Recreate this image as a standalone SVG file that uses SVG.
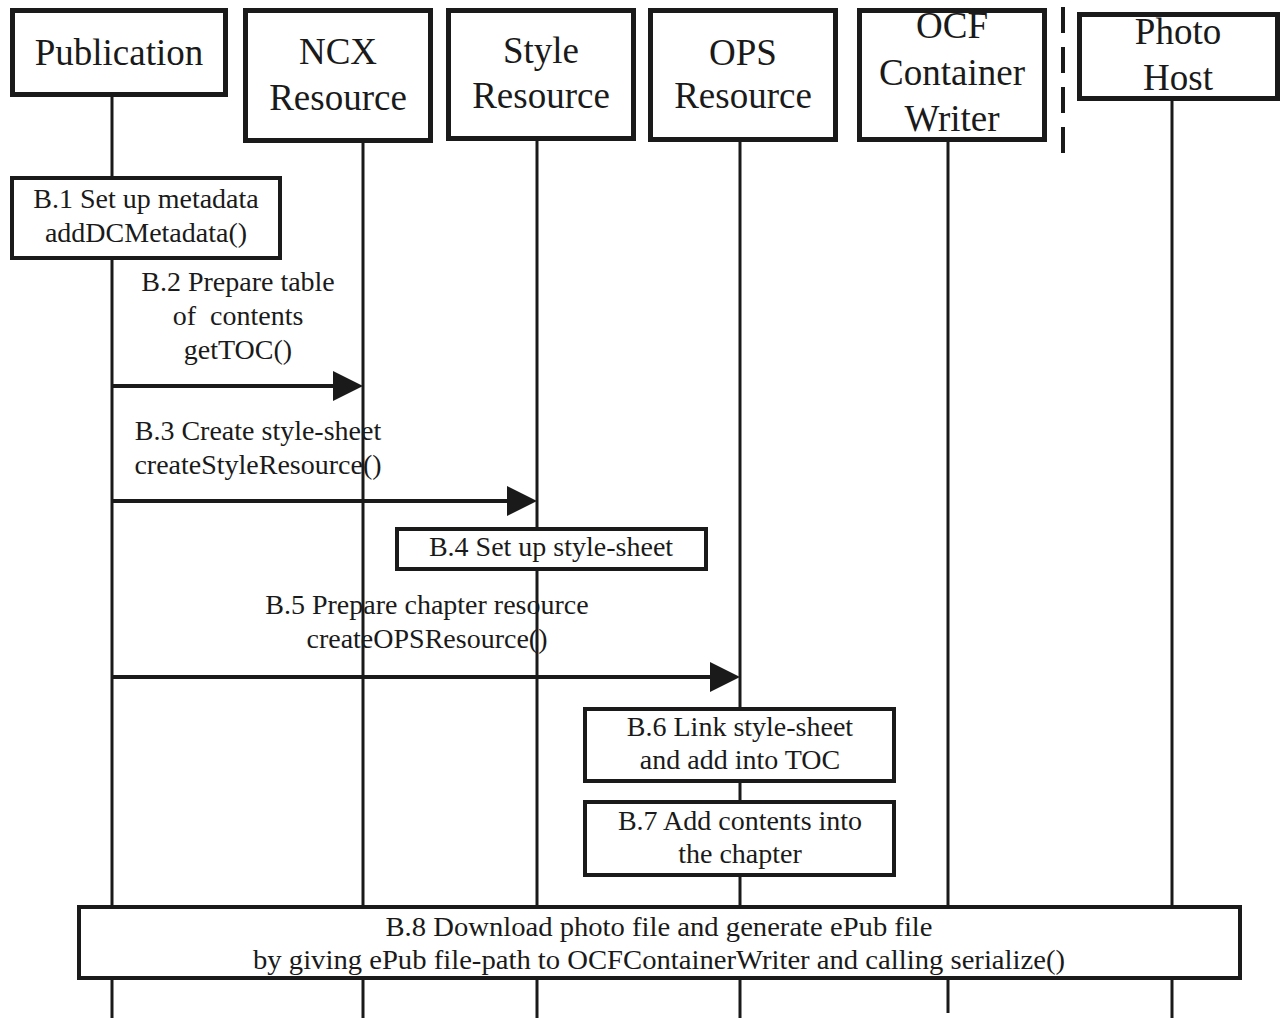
<svg xmlns="http://www.w3.org/2000/svg" width="1287" height="1018" viewBox="0 0 1287 1018">
  <style>
    .head { fill: #ffffff; stroke: #1a1a1a; stroke-width: 5; }
    .act { fill: #ffffff; stroke: #1a1a1a; stroke-width: 4; }
    .life { stroke: #1a1a1a; stroke-width: 3; fill: none; }
    .msg { stroke: #1a1a1a; stroke-width: 4; fill: none; }
    .sep { stroke: #1a1a1a; stroke-width: 4; stroke-dasharray: 26 14; fill: none; }
    text { font-family: "Liberation Serif", "Times New Roman", serif; fill: #1a1a1a; text-anchor: middle; white-space: pre; }
    .ht { font-size: 37px; }
    .bt { font-size: 28px; }
  </style>
  <defs>
    <marker id="arrow" markerUnits="userSpaceOnUse" markerWidth="30" markerHeight="30" refX="20" refY="15" orient="auto">
      <path d="M0,0 L30,15 L0,30 Z" fill="#1a1a1a"/>
    </marker>
  </defs>

  <rect width="1287" height="1018" fill="#ffffff"/>

  <!-- lifelines -->
  <g id="lifelines">
    <line class="life" x1="112" y1="97" x2="112" y2="1018"/>
    <line class="life" x1="363" y1="143" x2="363" y2="1018"/>
    <line class="life" x1="537" y1="141" x2="537" y2="1018" stroke-width="4"/>
    <line class="life" x1="740" y1="142" x2="740" y2="1018" stroke-width="4"/>
    <line class="life" x1="948" y1="142" x2="948" y2="1013" stroke-width="4"/>
    <line class="life" x1="1172" y1="101" x2="1172" y2="1018"/>
  </g>

  <!-- boundary between local objects and the remote host -->
  <line class="sep" x1="1063" y1="7" x2="1063" y2="153"/>

  <!-- participants -->
  <g id="publication">
    <rect class="head" x="12.5" y="10.5" width="213" height="84"/>
    <text class="ht" x="119" y="65">Publication</text>
  </g>
  <g id="ncx-resource">
    <rect class="head" x="245.5" y="10.5" width="185" height="130"/>
    <text class="ht" x="338" y="64">NCX</text>
    <text class="ht" x="338" y="110">Resource</text>
  </g>
  <g id="style-resource">
    <rect class="head" x="448.5" y="10.5" width="185" height="128"/>
    <text class="ht" x="541" y="63">Style</text>
    <text class="ht" x="541" y="108">Resource</text>
  </g>
  <g id="ops-resource">
    <rect class="head" x="650.5" y="10.5" width="185" height="129"/>
    <text class="ht" x="743" y="65">OPS</text>
    <text class="ht" x="743" y="108">Resource</text>
  </g>
  <g id="ocf-container-writer">
    <rect class="head" x="859.5" y="10.5" width="185" height="129"/>
    <text class="ht" x="952" y="38">OCF</text>
    <text class="ht" x="952" y="85">Container</text>
    <text class="ht" x="952" y="131">Writer</text>
  </g>
  <g id="photo-host">
    <rect class="head" x="1079.5" y="14.5" width="198" height="84"/>
    <text class="ht" x="1178" y="44">Photo</text>
    <text class="ht" x="1178" y="90">Host</text>
  </g>

  <!-- activities -->
  <g id="b1">
    <rect class="act" x="12" y="178" width="268" height="80"/>
    <text class="bt" x="146" y="208">B.1 Set up metadata</text>
    <text class="bt" x="146" y="242">addDCMetadata()</text>
  </g>
  <g id="b4">
    <rect class="act" x="397" y="529" width="309" height="40"/>
    <text class="bt" x="551" y="556">B.4 Set up style-sheet</text>
  </g>
  <g id="b6">
    <rect class="act" x="585" y="709" width="309" height="72"/>
    <text class="bt" x="740" y="736">B.6 Link style-sheet</text>
    <text class="bt" x="740" y="769">and add into TOC</text>
  </g>
  <g id="b7">
    <rect class="act" x="585" y="802" width="309" height="73"/>
    <text class="bt" x="740" y="830">B.7 Add contents into</text>
    <text class="bt" x="740" y="863">the chapter</text>
  </g>
  <g id="b8">
    <rect class="act" x="79" y="907" width="1161" height="71"/>
    <text class="bt" x="659" y="936" textLength="547" lengthAdjust="spacingAndGlyphs">B.8 Download photo file and generate ePub file</text>
    <text class="bt" x="659" y="969" textLength="812" lengthAdjust="spacingAndGlyphs">by giving ePub file-path to OCFContainerWriter and calling serialize()</text>
  </g>

  <!-- messages -->
  <g id="connectors">
    <line class="msg" x1="112" y1="386" x2="353" y2="386" marker-end="url(#arrow)"/>
    <line class="msg" x1="112" y1="501" x2="527" y2="501" marker-end="url(#arrow)"/>
    <line class="msg" x1="112" y1="677" x2="730" y2="677" marker-end="url(#arrow)"/>
  </g>

  <!-- message labels -->
  <g id="labels">
    <text class="bt" x="238" y="291">B.2 Prepare table</text>
    <text class="bt" x="238" y="325">of  contents</text>
    <text class="bt" x="238" y="359">getTOC()</text>
    <text class="bt" x="258" y="440">B.3 Create style-sheet</text>
    <text class="bt" x="258" y="474">createStyleResource()</text>
    <text class="bt" x="427" y="614">B.5 Prepare chapter resource</text>
    <text class="bt" x="427" y="648">createOPSResource()</text>
  </g>
</svg>
